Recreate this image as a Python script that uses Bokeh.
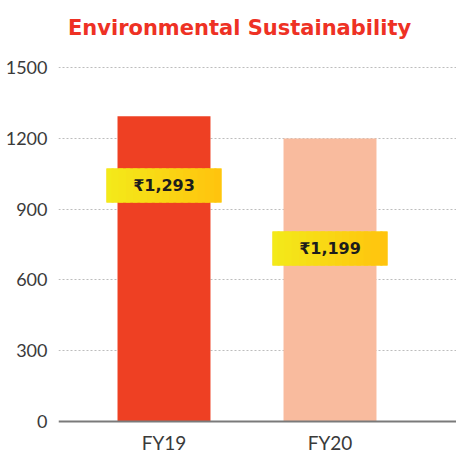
from bokeh.plotting import figure
from bokeh.models import Range1d, FixedTicker, Span
from bokeh.core.properties import value
from bokeh.embed import file_html
from bokeh.resources import INLINE

# ---- data ----
title = "Environmental Sustainability"
categories = ["FY19", "FY20"]
values = [1293, 1199]
value_labels = ["₹1,293", "₹1,199"]
y_ticks = [0, 300, 600, 900, 1200, 1500]

# ---- layout / style ----
bar_colors = ["#EE4023", "#F9BB9E"]
label_y = [1000, 733]          # vertical centre of the yellow value boxes
xs = list(range(len(categories)))

p = figure(width=456, height=454, output_backend="svg", toolbar_location=None,
           x_range=Range1d(-0.6355, 1.762), y_range=Range1d(-140, 1784),
           x_axis_location=None,
           min_border_left=58, min_border_right=0, min_border_top=0, min_border_bottom=0)
p.outline_line_color = None
p.background_fill_color = "white"
p.border_fill_color = "white"

# y axis
p.yaxis.ticker = FixedTicker(ticks=y_ticks)
p.yaxis.axis_line_color = None
p.yaxis.major_tick_line_color = None
p.yaxis.minor_tick_line_color = None
p.yaxis.major_label_standoff = 5
p.yaxis.major_label_text_font = "Lato"
p.yaxis.major_label_text_font_size = "18px"
p.yaxis.major_label_text_color = "#3a3a3a"

p.xgrid.visible = False
p.ygrid.ticker = FixedTicker(ticks=[t for t in y_ticks if t > 0])
p.ygrid.grid_line_color = "#bdbdbd"
p.ygrid.grid_line_dash = "2 2"
p.ygrid.grid_line_width = 1.2

# bars
p.vbar(x=xs, top=values, bottom=0, width=0.56, fill_color=bar_colors,
       line_color=None)

# baseline
p.add_layout(Span(location=0, dimension="width", line_color="#7a7a7a", line_width=2))

# value boxes with a yellow -> gold gradient
box_w = 0.693
box_h = 144
p.rect(x=xs, y=label_y, width=box_w, height=box_h, fill_color="#F9D914", line_color=None)
n = 16
c0 = (243, 234, 26)
c1 = (255, 196, 14)
sw = box_w / n
for i in range(n):
    t = i / (n - 1)
    col = "#%02x%02x%02x" % tuple(int(round(a + (b - a) * t)) for a, b in zip(c0, c1))
    p.rect(x=[x - box_w / 2 + sw * (i + 0.5) for x in xs], y=label_y,
           width=sw * (1.0 if i in (0, n - 1) else 1.6), height=box_h,
           fill_color=col, line_color=None)

p.text(x=xs, y=label_y, text=value_labels, text_font=value("DejaVu Sans"),
       text_font_style="bold", text_font_size="16px", text_color="#1c1c1c",
       text_align="center", text_baseline="middle")

# category labels
p.text(x=xs, y=[-90] * len(xs), text=categories, text_font=value("Lato"),
       text_font_size="19px", text_color="#3a3a3a",
       text_align="center", text_baseline="middle")

# title
p.text(x=[0.455], y=[1669], text=[title], text_font=value("DejaVu Sans"),
       text_font_style="bold", text_font_size="21px", text_color="#EE3124",
       text_align="center", text_baseline="middle")

open("out.html", "w").write(file_html(p, INLINE))
